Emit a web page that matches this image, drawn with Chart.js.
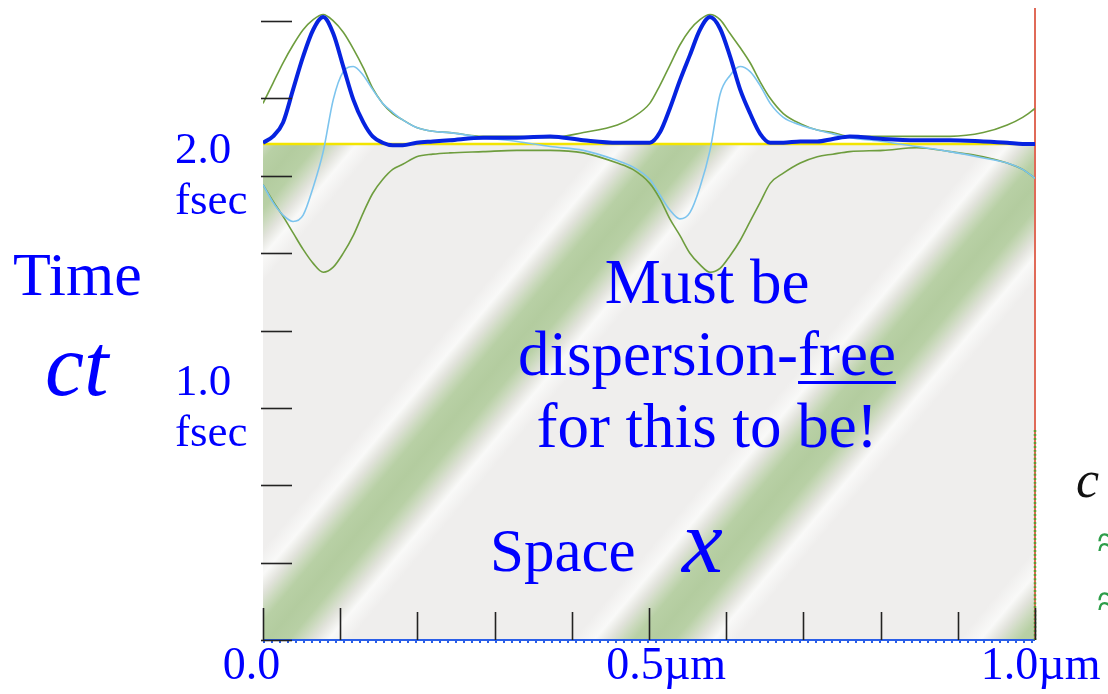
<!DOCTYPE html>
<html><head><meta charset="utf-8">
<script src="https://cdn.jsdelivr.net/npm/chart.js@4.4.1/dist/chart.umd.min.js"></script>
<style>html,body{margin:0;padding:0;background:#fff;overflow:hidden}#wrap{width:1108px;height:694px;position:relative}</style>
</head><body><div id="wrap"><canvas id="c" width="1108" height="694"></canvas></div>
<script>
// ---------- data ----------
// positions along x (µm)
const xPositions = [0.000,0.013,0.026,0.039,0.052,0.065,0.078,0.091,0.104,0.117,0.130,0.142,0.155,0.168,0.181,0.199,0.220,0.242,0.285,0.329,0.372,0.415,0.459,0.479,0.501,0.514,0.527,0.540,0.553,0.566,0.579,0.592,0.605,0.618,0.631,0.644,0.657,0.674,0.696,0.718,0.738,0.760,0.803,0.847,0.890,0.933,0.964,0.984,1.000];
// waveform snapshot (amplitude, arbitrary units, baseline = 0)
const blueWave = [0.01,0.06,0.17,0.43,0.69,0.90,1.00,0.87,0.61,0.35,0.17,0.06,0.01,-0.01,-0.01,0.01,0.02,0.03,0.05,0.05,0.06,0.03,0.01,0.01,0.01,0.09,0.28,0.50,0.70,0.90,1.00,0.91,0.69,0.43,0.24,0.08,0.01,0.01,0.02,0.02,0.04,0.06,0.04,0.03,0.03,0.02,0.01,0.00,0.00];
const greenUpper = [0.32,0.48,0.64,0.78,0.90,0.98,1.02,0.97,0.88,0.75,0.60,0.44,0.32,0.24,0.19,0.13,0.10,0.09,0.06,0.06,0.05,0.09,0.15,0.21,0.32,0.46,0.62,0.78,0.90,0.98,1.02,0.98,0.87,0.76,0.64,0.49,0.36,0.24,0.16,0.11,0.09,0.06,0.06,0.06,0.06,0.09,0.15,0.21,0.28];
const greenLower = [-0.32,-0.45,-0.57,-0.70,-0.83,-0.94,-1.01,-0.97,-0.86,-0.72,-0.54,-0.39,-0.28,-0.20,-0.16,-0.10,-0.08,-0.07,-0.06,-0.05,-0.05,-0.07,-0.15,-0.20,-0.31,-0.43,-0.59,-0.72,-0.86,-0.95,-1.01,-0.98,-0.88,-0.76,-0.61,-0.46,-0.31,-0.23,-0.15,-0.10,-0.08,-0.06,-0.05,-0.03,-0.06,-0.10,-0.15,-0.20,-0.27];
const lightBlueWave = [-0.32,-0.46,-0.56,-0.61,-0.56,-0.34,-0.06,0.35,0.57,0.61,0.54,0.43,0.32,0.25,0.19,0.13,0.10,0.09,0.05,0.02,-0.02,-0.05,-0.13,-0.18,-0.28,-0.40,-0.52,-0.59,-0.54,-0.34,-0.05,0.39,0.54,0.61,0.57,0.46,0.32,0.21,0.15,0.11,0.08,0.05,0.02,-0.02,-0.06,-0.11,-0.15,-0.20,-0.27];
// axis ticks
const xTickValues = [0,0.1,0.2,0.3,0.4,0.5,0.6,0.7,0.8,0.9,1.0];
const xTickLabels = ['0.0  ','','','','','   0.5\u00b5m','','','','',' 1.0\u00b5m'];
const yTickValues = [0,1/3,2/3,1,4/3,5/3,2,7/3,8/3];
const yTickLabels = ['','','',['1.0','fsec'],'','',['2.0','fsec'],'',''];
// time axis extent and snapshot time (fsec)
const timeMax = 2.723;
const snapshotTime = 2.137;
const ampUnit = 0.547;          // fsec of height per unit amplitude
// light-cone stripes: centre positions at t=0 (µm) and drift speed (µm/fsec)
const stripeCentersAtZero = [-0.4935,0.0065,0.5065,1.0065];
const stripeSpeed = 0.2516;
const stripePeriod = 0.5;
// boundary / baseline lines
const spanX = [0,1];
const boundaryX = 1.0;
const boundaryDottedTop = 0.905;

// ---------- drawing ----------
const SERIF = '"Liberation Serif","Times New Roman",serif';
const BLUE = '#0000ff';
const pts = arr => arr.map((v,i)=>({x:xPositions[i], y:v}));

const stripePlugin = {
  id:'stripes',
  beforeDatasetsDraw(chart){
    const {ctx, scales:{x, y}} = chart;
    const top = y.getPixelForValue(snapshotTime), bottom = y.getPixelForValue(0);
    const left = x.getPixelForValue(0), right = x.getPixelForValue(1);
    ctx.save();
    ctx.beginPath(); ctx.rect(left, top, right-left, bottom-top); ctx.clip();
    ctx.fillStyle = '#efeeed'; ctx.fillRect(left, top, right-left, bottom-top);
    const slope = (x.getPixelForValue(stripeSpeed) - x.getPixelForValue(0)) / (y.getPixelForValue(0) - y.getPixelForValue(1));
    ctx.transform(1,0,-slope,1,slope*bottom,0);
    const period = x.getPixelForValue(stripePeriod) - x.getPixelForValue(0);
    const stops = [[0,'#efeeed'],[0.29,'#efeeed'],[0.345,'#f9f9f8'],[0.383,'#e2e3dc'],[0.418,'#cad9bc'],[0.447,'#b8d0a5'],[0.5,'#b3cc9f'],
                   [0.553,'#b8d0a5'],[0.582,'#cad9bc'],[0.617,'#e2e3dc'],[0.655,'#f9f9f8'],[0.71,'#efeeed'],[1,'#efeeed']];
    stripeCentersAtZero.forEach(c=>{
      const cu = x.getPixelForValue(c);
      const g = ctx.createLinearGradient(cu-period/2,0,cu+period/2,0);
      stops.forEach(s=>g.addColorStop(s[0],s[1]));
      ctx.fillStyle = g;
      ctx.fillRect(cu-period/2-0.5, top-2, period+1, bottom-top+4);
    });
    ctx.restore();
  }
};

const tickPlugin = {
  id:'inwardTicks',
  afterDatasetsDraw(chart){
    const {ctx, scales:{x, y}} = chart;
    const left = x.getPixelForValue(0), bottom = y.getPixelForValue(0);
    ctx.save();
    ctx.strokeStyle = '#222'; ctx.lineWidth = 1.6;
    yTickValues.forEach(v=>{
      const py = Math.round(y.getPixelForValue(v))+0.5;
      ctx.beginPath(); ctx.moveTo(left-2, py); ctx.lineTo(left+29, py); ctx.stroke();
    });
    xTickValues.forEach((v,i)=>{
      const px = Math.round(x.getPixelForValue(v))+0.5;
      const len = (i%5===0 || i===1) ? 32 : 28;
      ctx.beginPath(); ctx.moveTo(px, bottom); ctx.lineTo(px, bottom-len); ctx.stroke();
    });
    ctx.restore();
  }
};

const textPlugin = {
  id:'texts',
  afterDraw(chart){
    const ctx = chart.ctx;
    ctx.save();
    ctx.fillStyle = BLUE; ctx.textBaseline = 'alphabetic';
    ctx.textAlign = 'left';
    ctx.font = '62px '+SERIF; ctx.fillText('Time', 13, 295);
    ctx.font = 'italic 88px '+SERIF; ctx.fillText('ct', 45, 395);
    ctx.textAlign = 'center';
    ctx.font = '63px '+SERIF;
    const cx = 707;
    ctx.fillText('Must be', cx, 303);
    ctx.fillText('for this to be!', cx, 447);
    ctx.textAlign = 'left';
    const w1 = ctx.measureText('dispersion-').width, w2 = ctx.measureText('free').width;
    const sx = cx - (w1+w2)/2;
    ctx.fillText('dispersion-', sx, 375);
    ctx.fillText('free', sx+w1, 375);
    ctx.fillRect(sx+w1, 381, w2, 3);
    ctx.font = '61px '+SERIF; ctx.fillText('Space', 490, 571);
    ctx.font = 'italic 92px '+SERIF; ctx.fillText('x', 682, 572);
    ctx.fillStyle = '#111'; ctx.font = 'italic 52px '+SERIF; ctx.fillText('c', 1076, 497);
    ctx.fillStyle = '#2e9e4a'; ctx.font = '48px '+SERIF;
    ctx.fillText('\u2248', 1097, 558); ctx.fillText('\u2248', 1097, 617);
    ctx.restore();
  }
};

const lineDs = (data, color, width, extra) => Object.assign({
  data, borderColor: color, borderWidth: width, pointRadius: 0, fill: false,
  cubicInterpolationMode: 'monotone', yAxisID: 'yA'
}, extra||{});

new Chart(document.getElementById('c'), {
  type: 'line',
  data: { datasets: [
    lineDs(pts(blueWave), '#0623e0', 4),
    lineDs(pts(lightBlueWave), '#7cc4ee', 1.6),
    lineDs(pts(greenUpper), '#6e9d3e', 1.6),
    lineDs(pts(greenLower), '#6e9d3e', 1.6),
    lineDs(spanX.map(v=>({x:v,y:0})), '#f2e400', 2.5),
    lineDs([{x:boundaryX,y:0},{x:boundaryX,y:boundaryDottedTop}], '#5f9a30', 2.5, {yAxisID:'y', borderDash:[2,2], clip:false}),
    lineDs([{x:boundaryX,y:0},{x:boundaryX,y:timeMax}], '#e06a58', 2, {yAxisID:'y', clip:false}),
    lineDs(spanX.map(v=>({x:v,y:0})), '#2a5ee8', 2, {yAxisID:'y', clip:false}),
    lineDs(spanX.map(v=>({x:v,y:-0.006})), '#2a5ee8', 3, {yAxisID:'y', clip:false, borderDash:[2,6]})
  ]},
  options: {
    responsive: false, animation: false, devicePixelRatio: 1,
    layout: { padding: { left: 175, right: 73, top: 8, bottom: 0 } },
    plugins: { legend: { display: false }, tooltip: { enabled: false } },
    scales: {
      x: {
        type: 'linear', min: 0, max: 1,
        grid: { display: false, drawTicks: false }, border: { display: false },
        afterBuildTicks: s => { s.ticks = xTickValues.map(v=>({value:v})); },
        afterFit: s => { s.height = 54; s.paddingLeft = 0; s.paddingRight = 0; },
        ticks: { autoSkip: false, maxRotation: 0, padding: 4, color: BLUE,
          font: { family: SERIF, size: 46, lineHeight: 1 },
          callback: (v,i) => xTickLabels[i] }
      },
      y: {
        type: 'linear', min: 0, max: timeMax,
        grid: { display: false, drawTicks: false }, border: { display: false },
        afterBuildTicks: s => { s.ticks = yTickValues.map(v=>({value:v})); },
        afterFit: s => { s.width = 88; s.paddingTop = 0; s.paddingBottom = 0; },
        ticks: { autoSkip: false, crossAlign: 'far', labelOffset: 1, color: BLUE,
          font: { family: SERIF, size: 45, lineHeight: 1.13 },
          callback: (v,i) => yTickLabels[i] }
      },
      yA: {
        type: 'linear', display: false,
        afterFit: s => { s.paddingTop = 0; s.paddingBottom = 0; },
        min: -snapshotTime/ampUnit, max: (timeMax-snapshotTime)/ampUnit
      }
    }
  },
  plugins: [stripePlugin, tickPlugin, textPlugin]
});
</script></body></html>
